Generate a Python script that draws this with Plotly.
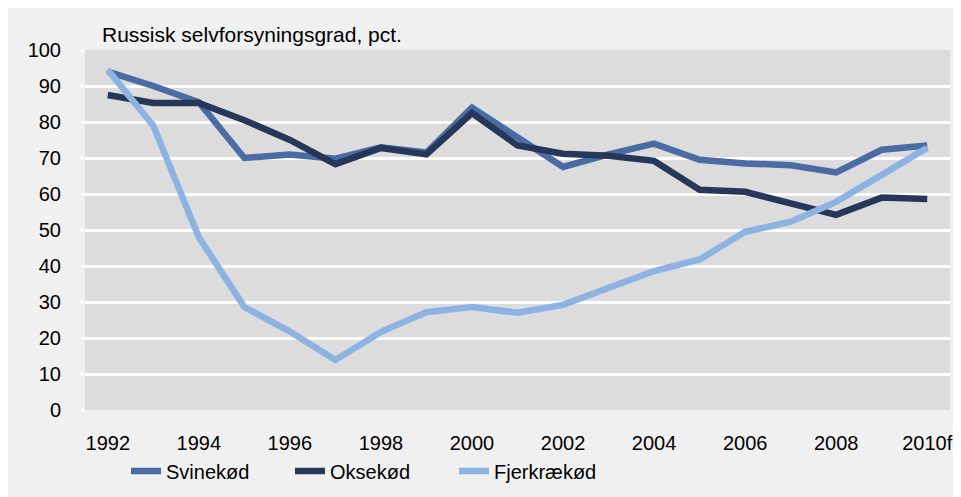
import plotly.graph_objects as go

years = ["1992", "1993", "1994", "1995", "1996", "1997", "1998", "1999", "2000", "2001",
         "2002", "2003", "2004", "2005", "2006", "2007", "2008", "2009", "2010f"]
tick_labels = ["1992", "1994", "1996", "1998", "2000", "2002", "2004", "2006", "2008", "2010f"]

svinekod = [94, 90, 85.5, 70, 71, 69.8, 73, 71.5, 84, 76, 67.5, 71, 74, 69.5, 68.5, 68, 66, 72.3, 73.5]
oksekod = [87.5, 85.3, 85.3, 80.5, 75, 68.3, 72.8, 71, 82.5, 73.5, 71.2, 70.6, 69.2, 61.2, 60.6, 57.2, 54.2, 59, 58.6]
fjerkraekod = [94.5, 79, 48, 28.6, 21.8, 13.9, 21.7, 27.2, 28.6, 27, 29.2, 33.8, 38.6, 41.8, 49.5, 52.3, 57.8, 65.3, 72.8]

series = [
    ("Svinekød", svinekod, "#4a6ba4"),
    ("Oksekød", oksekod, "#26375a"),
    ("Fjerkrækød", fjerkraekod, "#8db3e2"),
]

fig = go.Figure()
for name, vals, color in series:
    fig.add_trace(go.Scatter(x=years, y=vals, name=name, mode="lines",
                             line=dict(color=color, width=6.5)))

FONT = "Liberation Sans, Arial, sans-serif"
W, H = 961, 497
# figure coordinates (page shows the figure offset by 8px)
L, R, T, B = 77, 19, 42, 95
pw, ph = W - L - R, H - T - B

def px_x(p):
    return (p - L) / pw

def px_y(p):
    return (H - B - p) / ph

fig.update_layout(
    width=W, height=H,
    margin=dict(l=L, r=R, t=T, b=B, pad=0, autoexpand=False),
    paper_bgcolor="#f0f0f0",
    plot_bgcolor="#dcdcdc",
    font=dict(family=FONT, size=20, color="#000000"),
    showlegend=True,
    legend=dict(orientation="h", x=px_x(118), y=px_y(463), xanchor="left", yanchor="middle",
                font=dict(size=20, family=FONT), bgcolor="rgba(0,0,0,0)",
                itemwidth=30, traceorder="normal", entrywidth=119, entrywidthmode="pixels"),
    xaxis=dict(type="category", tickmode="array", tickvals=tick_labels, ticktext=tick_labels,
               range=[-0.5, len(years) - 0.5], automargin=False,
               showgrid=False, zeroline=False, showline=False, ticks="",
               ticklabelstandoff=19, tickfont=dict(size=20, family=FONT)),
    yaxis=dict(range=[0, 100], tickmode="linear", tick0=0, dtick=10, automargin=False,
               showgrid=True, gridcolor="#ffffff", gridwidth=3, zeroline=False, showline=False,
               ticks="outside", ticklen=3, tickcolor="#ffffff", tickwidth=3,
               ticklabelstandoff=16, tickfont=dict(size=20, family=FONT)),
    annotations=[dict(text="Russisk selvforsyningsgrad, pct.", xref="paper", yref="paper",
                      x=px_x(92), y=px_y(27), xanchor="left", yanchor="middle",
                      showarrow=False, font=dict(size=21, family=FONT, color="#000000"))],
)

fig.write_html("out.html")
